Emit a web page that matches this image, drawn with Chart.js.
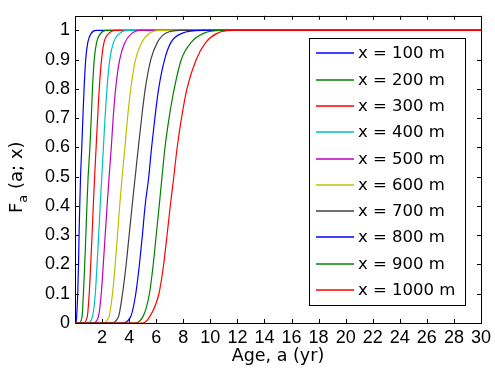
<!DOCTYPE html>
<html>
<head>
<meta charset="utf-8">
<script src="https://cdn.jsdelivr.net/npm/chart.js@4/dist/chart.umd.min.js"></script>
<style>
  body { margin: 0; background: #fff; }
  canvas { display: block; }
</style>
</head>
<body>
<canvas id="myChart" width="495" height="371"></canvas>
<script>
const fLevels = [0, 0.02, 0.1, 0.2, 0.3, 0.4, 0.5, 0.6, 0.7, 0.8, 0.9, 0.96, 0.99, 1];

// age (yr) where each curve reaches the level above
const age100m  = [0.05, 0.12, 0.20, 0.26, 0.30, 0.35, 0.41, 0.50, 0.58, 0.67, 0.79, 0.95, 1.20, 1.55];
const age200m  = [0.30, 0.52, 0.62, 0.72, 0.80, 0.88, 0.97, 1.10, 1.20, 1.29, 1.42, 1.60, 1.90, 2.30];
const age300m  = [0.60, 0.90, 1.05, 1.16, 1.26, 1.35, 1.45, 1.56, 1.67, 1.79, 1.96, 2.15, 2.50, 2.95];
const age400m  = [0.90, 1.28, 1.50, 1.63, 1.75, 1.86, 1.98, 2.10, 2.22, 2.36, 2.57, 2.85, 3.30, 3.80];
const age500m  = [1.30, 1.72, 1.94, 2.09, 2.23, 2.37, 2.52, 2.68, 2.82, 3.00, 3.30, 3.70, 4.20, 4.75];
const age600m  = [2.00, 2.50, 2.77, 2.97, 3.14, 3.30, 3.48, 3.69, 3.88, 4.12, 4.47, 4.95, 5.50, 6.30];
const age700m  = [2.60, 3.20, 3.51, 3.78, 4.00, 4.22, 4.45, 4.68, 4.92, 5.19, 5.60, 6.10, 6.70, 7.80];
const age800m  = [3.40, 4.10, 4.49, 4.76, 4.98, 5.18, 5.45, 5.66, 5.90, 6.18, 6.62, 7.10, 7.90, 9.40];
const age900m  = [4.30, 5.00, 5.50, 5.78, 6.00, 6.22, 6.43, 6.65, 6.95, 7.33, 7.85, 8.60, 9.50, 10.8];
const age1000m = [5.00, 5.50, 6.20, 6.55, 6.80, 7.04, 7.30, 7.55, 7.87, 8.27, 8.95, 9.68, 10.5, 11.6];

const seriesLabels = ['x = 100 m', 'x = 200 m', 'x = 300 m', 'x = 400 m', 'x = 500 m',
                      'x = 600 m', 'x = 700 m', 'x = 800 m', 'x = 900 m', 'x = 1000 m'];
const seriesAges = [age100m, age200m, age300m, age400m, age500m,
                    age600m, age700m, age800m, age900m, age1000m];
const seriesColors = ['#0000ff', '#008000', '#ff0000', '#00bfbf', '#bf00bf',
                      '#bfbf00', '#404040', '#0000ff', '#008000', '#ff0000'];

const xTicks = [2, 4, 6, 8, 10, 12, 14, 16, 18, 20, 22, 24, 26, 28, 30];
const yTicks = [0, 0.1, 0.2, 0.3, 0.4, 0.5, 0.6, 0.7, 0.8, 0.9, 1];

const TICK_FONT = 'Liberation Sans';
const TEXT_FONT = 'DejaVu Sans';

const datasets = seriesLabels.map((label, i) => ({
    label: label,
    data: [{ x: 0, y: 0 }]
        .concat(seriesAges[i].map((a, k) => ({ x: a, y: fLevels[k] })))
        .concat([{ x: 30, y: 1 }]),
    borderColor: seriesColors[i],
    backgroundColor: seriesColors[i],
    borderWidth: 1.2,
    pointRadius: 0,
    cubicInterpolationMode: 'monotone',
    order: seriesLabels.length - i   // later curves drawn on top, like matlab
}));

// box + inward ticks under the curves, titles and legend on top
const matlabAxes = {
    id: 'matlabAxes',
    beforeDatasetsDraw(chart) {
        const ctx = chart.ctx;
        const a = chart.chartArea;
        const xs = chart.scales.x, ys = chart.scales.y;
        const tl = 4;
        ctx.save();
        ctx.strokeStyle = '#000';
        ctx.lineWidth = 1;
        ctx.beginPath();
        xTicks.forEach(v => {
            const px = Math.round(xs.getPixelForValue(v)) + 0.5;
            ctx.moveTo(px, a.bottom); ctx.lineTo(px, a.bottom - tl);
            ctx.moveTo(px, a.top); ctx.lineTo(px, a.top + tl);
        });
        yTicks.forEach(v => {
            const py = Math.round(ys.getPixelForValue(v)) + 0.5;
            ctx.moveTo(a.left, py); ctx.lineTo(a.left + tl, py);
            ctx.moveTo(a.right, py); ctx.lineTo(a.right - tl, py);
        });
        ctx.stroke();
        ctx.strokeRect(Math.round(a.left) + 0.5, Math.round(a.top) + 0.5,
                       Math.round(a.right - a.left), Math.round(a.bottom - a.top));
        ctx.restore();
    },
    afterDraw(chart) {
        const ctx = chart.ctx;
        const a = chart.chartArea;
        ctx.save();
        // x title
        ctx.fillStyle = '#000';
        ctx.font = '17.5px "' + TEXT_FONT + '"';
        ctx.textAlign = 'center';
        ctx.textBaseline = 'alphabetic';
        ctx.fillText('Age, a (yr)', (a.left + a.right) / 2, 361);

        // y title with subscript
        ctx.translate(22, 213);
        ctx.rotate(-Math.PI / 2);
        ctx.textAlign = 'left';
        ctx.font = '18px "' + TEXT_FONT + '"';
        ctx.fillText('F', 0, 0);
        let w = ctx.measureText('F').width;
        ctx.font = '13px "' + TEXT_FONT + '"';
        ctx.fillText('a', w, 5);
        w += ctx.measureText('a').width;
        ctx.font = '18px "' + TEXT_FONT + '"';
        ctx.fillText(' (a; x)', w, 0);
        ctx.restore();

        // legend box
        ctx.save();
        const lx = 309.5, ly = 38.5, lw = 156, lh = 267;
        ctx.fillStyle = '#fff';
        ctx.fillRect(lx, ly, lw, lh);
        ctx.strokeStyle = '#000';
        ctx.lineWidth = 1;
        ctx.strokeRect(lx, ly, lw, lh);
        ctx.font = '16.5px "' + TEXT_FONT + '"';
        ctx.textBaseline = 'middle';
        ctx.textAlign = 'left';
        chart.data.datasets.forEach((ds, i) => {
            const y = Math.round(53.3 + 26.3 * i);
            ctx.strokeStyle = ds.borderColor;
            ctx.lineWidth = 1.4;
            ctx.beginPath();
            ctx.moveTo(316, y); ctx.lineTo(354, y);
            ctx.stroke();
            ctx.fillStyle = '#000';
            ctx.fillText(ds.label, 358, y + 1);
        });
        ctx.restore();
    }
};

const ctx = document.getElementById('myChart').getContext('2d');
const myChart = new Chart(ctx, {
    type: 'line',
    data: { datasets: datasets },
    options: {
        responsive: false,
        animation: false,
        events: [],
        layout: { padding: { top: 9, right: 12, left: 0, bottom: 0 } },
        plugins: {
            legend: { display: false },
            tooltip: { enabled: false }
        },
        scales: {
            x: {
                type: 'linear',
                min: 0,
                max: 30,
                grid: { display: false, drawTicks: false },
                border: { display: false },
                afterBuildTicks: s => { s.ticks = xTicks.map(v => ({ value: v })); },
                afterFit: s => { s.height = 48; },
                ticks: {
                    color: '#000',
                    padding: 4,
                    maxRotation: 0,
                    autoSkip: false,
                    font: { family: TICK_FONT, size: 18 },
                    callback: v => String(v)
                }
            },
            y: {
                type: 'linear',
                min: 0,
                max: 1.05,
                grid: { display: false, drawTicks: false },
                border: { display: false },
                afterBuildTicks: s => { s.ticks = yTicks.map(v => ({ value: v })); },
                afterFit: s => { s.width = 75; },
                ticks: {
                    color: '#000',
                    padding: 5,
                    autoSkip: false,
                    font: { family: TICK_FONT, size: 18 },
                    callback: v => String(v)
                }
            }
        }
    },
    plugins: [matlabAxes]
});
</script>
</body>
</html>
